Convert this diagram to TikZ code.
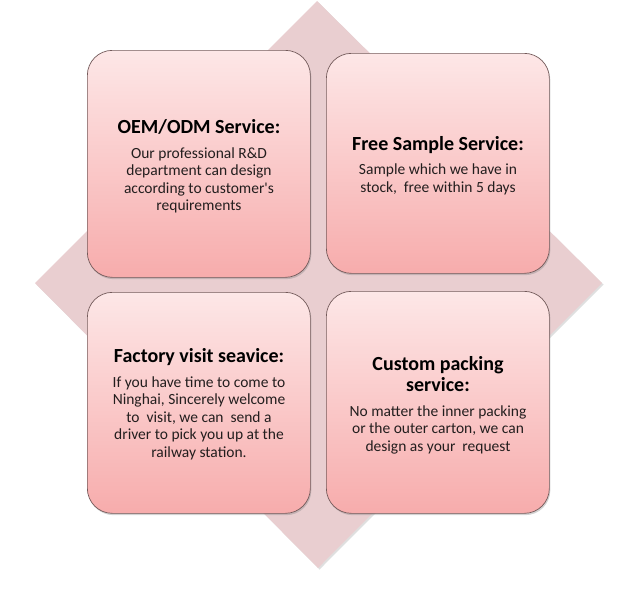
\documentclass[tikz,border=0pt]{standalone}
\usepackage{fontspec}
\setmainfont{Carlito}
\usetikzlibrary{shadows}
\definecolor{diam}{RGB}{233,206,208}
\definecolor{boxtop}{RGB}{253,231,231}
\definecolor{boxbot}{RGB}{247,172,172}
\definecolor{boxline}{RGB}{115,90,90}
\definecolor{bodytext}{RGB}{35,30,30}
\begin{document}
\begin{tikzpicture}[x=1pt,y=-1pt,
  card/.style={draw=boxline, line width=0.7pt, rounded corners=25pt,
    top color=boxtop, bottom color=boxbot, inner sep=0pt,
    minimum width=223pt, minimum height=222pt, anchor=north west,
    drop shadow={shadow xshift=1pt, shadow yshift=-1.8pt, opacity=0.35}},
  ttl/.style={font=\fontsize{20}{21}\selectfont\bfseries, text=black, align=center, inner sep=0pt},
  body/.style={font=\fontsize{15.5}{17.5}\selectfont, text=bodytext, align=center, inner sep=0pt},
  backdiamond/.style={fill=diam, drop shadow={shadow xshift=1.5pt, shadow yshift=-1.5pt, opacity=0.25}}
]
\useasboundingbox (0,0) rectangle (617,602);
\path[backdiamond] (317,1) -- (602,283) -- (318,568) -- (35,283) -- cycle;

\node[card, minimum height=227pt] (b1) at (87,50) {};
\node[card, minimum height=220pt] (b2) at (326,53) {};
\node[card, minimum height=221pt] (b3) at (87,292) {};
\node[card, minimum height=222pt] (b4) at (326,291) {};

\node[ttl] (t1) at (199,127) {OEM/ODM Service:};
\node[body] (d1) at (199,180.5) {Our professional R\&D\\department can design\\according to customer\textquotesingle s\\requirements};

\node[ttl] (t2) at (438,145) {Free Sample Service:};
\node[body] (d2) at (438,179.5) {Sample which we have in\\stock,\ \ free within 5 days};

\node[ttl] (t3) at (199,357) {Factory visit seavice:};
\node[body] (d3) at (199,418) {If you have time to come to\\Ninghai, Sincerely welcome\\to\ \ visit, we can\ \ send a\\driver to pick you up at the\\railway station.};

\node[ttl] (t4) at (438,374) {Custom packing\\service:};
\node[body] (d4) at (438,429.5) {No matter the inner packing\\or the outer carton, we can\\design as your\ \ request};
\end{tikzpicture}
\end{document}
